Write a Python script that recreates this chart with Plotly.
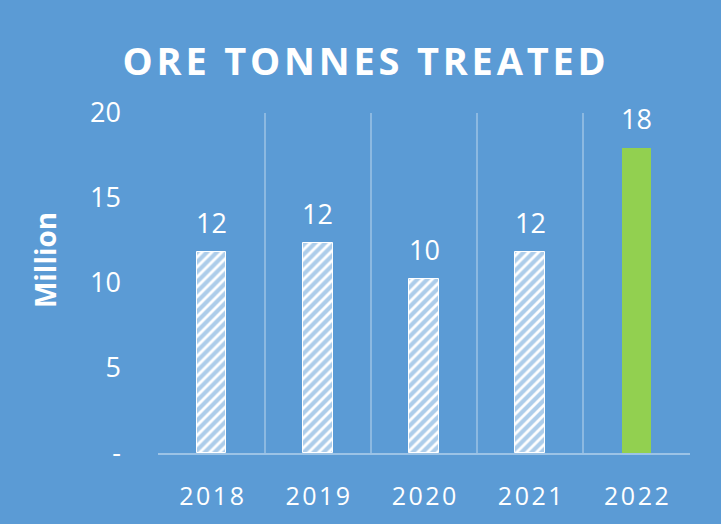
import plotly.graph_objects as go

years = ["2018", "2019", "2020", "2021", "2022"]
values = [11.8, 12.35, 10.25, 11.85, 17.95]
labels = ["12", "12", "10", "12", "18"]
y_tick_vals = [0, 5, 10, 15, 20]
y_tick_text = ["-", "5", "10", "15", "20"]
title_text = "ORE TONNES TREATED"
y_title = "Million"

BLUE = "#5B9BD5"
GREEN = "#92D050"
HS = "\u200a"

def spaced(s, sep=HS):
    return sep.join(list(s))

xpos = list(range(len(years)))
hatched = [i for i in xpos if i < len(years) - 1]
last = [len(years) - 1]

fig = go.Figure()
fig.add_trace(go.Bar(
    x=[xpos[i] for i in hatched], y=[values[i] for i in hatched],
    width=0.28,
    marker=dict(color="white", line=dict(color="white", width=1),
                pattern=dict(shape="/", fgcolor=BLUE, bgcolor="white", size=7, solidity=0.6)),
    showlegend=False, hoverinfo="skip",
))
fig.add_trace(go.Bar(
    x=[xpos[i] for i in last], y=[values[i] for i in last],
    width=0.28,
    marker=dict(color=GREEN, line=dict(width=0)),
    showlegend=False, hoverinfo="skip",
))

for i, (v, t) in enumerate(zip(values, labels)):
    fig.add_annotation(x=i, y=v, text=t, showarrow=False, yanchor="bottom", yshift=9,
                       font=dict(family="Open Sans", size=27, color="white"))

fig.add_annotation(xref="paper", yref="paper", x=-0.212, y=0.568, xanchor="center", yanchor="middle",
                   text=y_title, textangle=-90,
                   showarrow=False, font=dict(family="Open Sans", size=28, color="white", weight="bold"))

fig.update_layout(
    width=721, height=524,
    paper_bgcolor=BLUE, plot_bgcolor=BLUE,
    margin=dict(l=158, r=31, t=113, b=66),
    title=dict(text=spaced(title_text, HS), x=0.505, xanchor="center", y=1 - 62 / 524, yanchor="middle",
               yref="container", font=dict(family="Open Sans", size=38, color="white", weight="bold")),
    bargap=0.0,
)
fig.update_xaxes(
    range=[-0.505, len(years) - 0.495], tickmode="array", tickvals=xpos,
    ticktext=[spaced(y, HS) for y in years],
    showgrid=False, zeroline=False,
    minor=dict(tick0=-0.5, dtick=1, showgrid=True, gridcolor="rgba(255,255,255,0.3)", gridwidth=1.5),
    showline=True, linecolor="rgba(255,255,255,0.4)", linewidth=1.5,
    ticks="", ticklabelstandoff=20,
    tickfont=dict(family="Open Sans", size=25, color="white"),
)
fig.update_yaxes(
    range=[0, 20], tickmode="array", tickvals=y_tick_vals, ticktext=y_tick_text,
    showgrid=False, zeroline=False, showline=False, ticks="", ticklabelstandoff=36,
    tickfont=dict(family="Open Sans", size=27, color="white"),
)

fig.write_html("out.html", config={"displayModeBar": False},
               post_script="document.body.style.margin='0px';")
